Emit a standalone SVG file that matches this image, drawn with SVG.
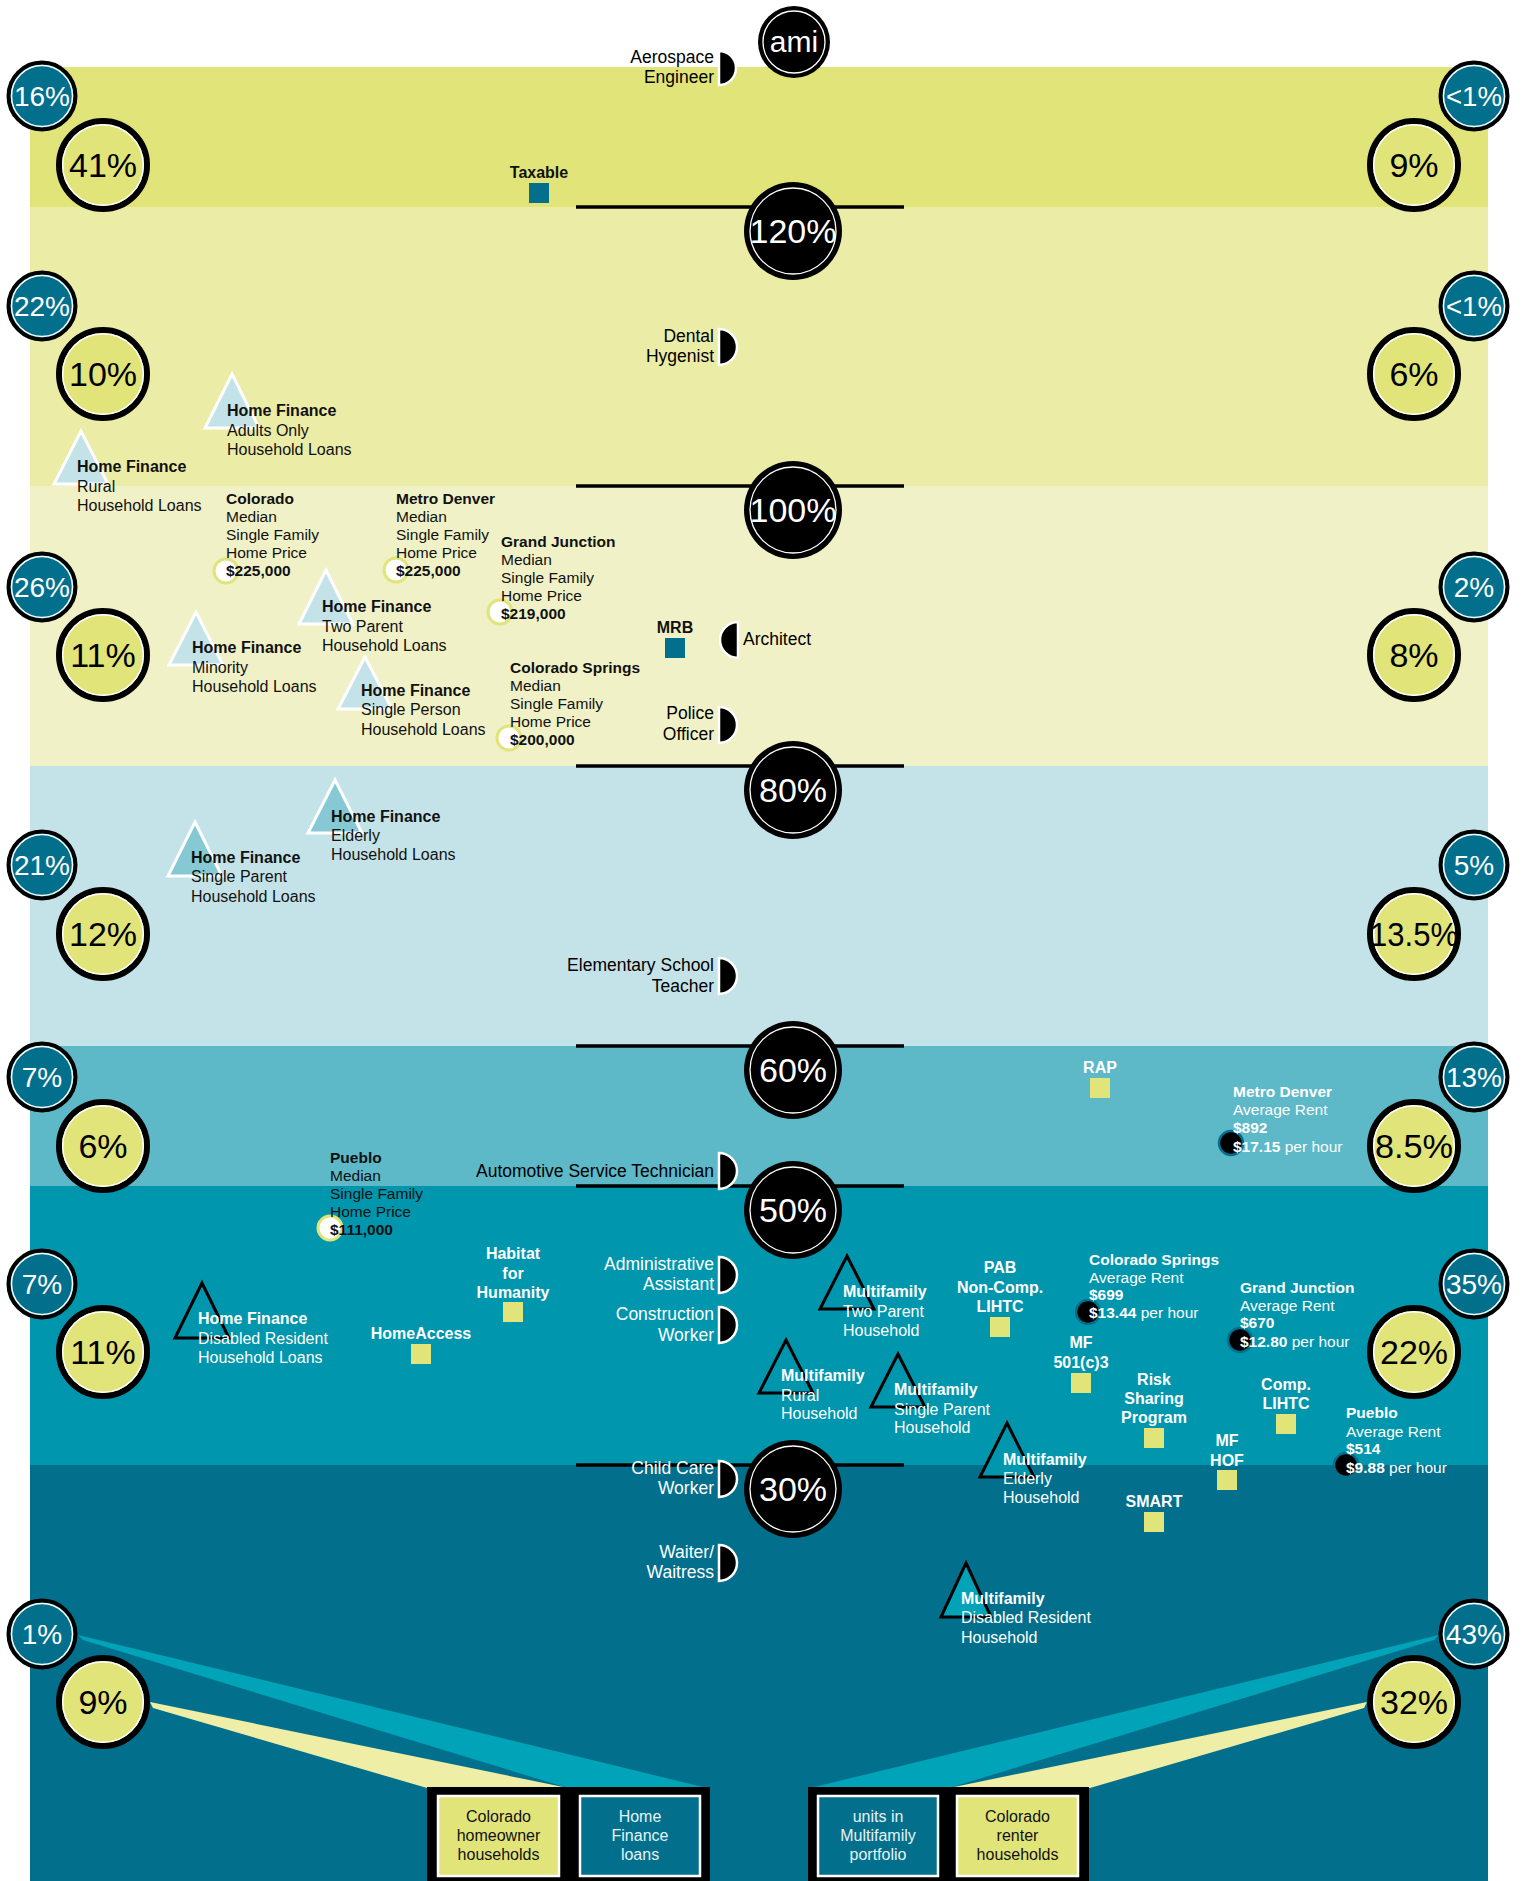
<svg xmlns="http://www.w3.org/2000/svg" width="1523" height="1881" viewBox="0 0 1523 1881">
<style>
text{font-family:"Liberation Sans",Arial,sans-serif}
.sc{fill:#02708c;stroke:#000;stroke-width:4}
.scr{fill:none;stroke:#fff;stroke-width:1.5}
.bc{fill:#e1e479;stroke:#000;stroke-width:6}
.bcr{fill:none;stroke:#fff;stroke-width:1.5}
.cc{fill:#000}
.ccr{fill:none;stroke:#fff;stroke-width:1.3}
.ps{font-size:28px;fill:#fff;text-anchor:middle}
.pb{font-size:34px;fill:#000;text-anchor:middle}
.pc{font-size:34px;fill:#fff;text-anchor:middle}
.thr{stroke:#000;stroke-width:3.5}
.disc{fill:#000;stroke:#fff;stroke-width:2.5}
.occ{font-size:17.5px;fill:#000;text-anchor:end}
.occw{font-size:17.5px;fill:#fff;text-anchor:end}
.hf{font-size:16px;fill:#111}
.hfw{font-size:16px;fill:#fff}
.b{font-weight:bold}
.tl{fill:#c4e3e8;stroke:#fff;stroke-width:3}
.tm{fill:#86c9d4;stroke:#fff;stroke-width:3}
.tk{fill:#0096ad;stroke:#000;stroke-width:3}
.hp{fill:#fff;stroke:#e1e479;stroke-width:3}
.hpt{font-size:15.5px;fill:#111}
.rm{fill:#000;stroke:#02708c;stroke-width:2.5}
.rt{font-size:15.5px;fill:#fff}
.sqt{fill:#02708c}
.sqy{fill:#e1e479}
.sl{font-size:16px;font-weight:bold;fill:#111;text-anchor:middle}
.slw{font-size:16px;font-weight:bold;fill:#fff;text-anchor:middle}
.bx{fill:#000}
.iby{fill:#e1e479;stroke:#fff;stroke-width:2.5}
.ibt{fill:#02708c;stroke:#fff;stroke-width:2.5}
.bt{font-size:16px;fill:#111;text-anchor:middle}
.btw{font-size:16px;fill:#e6f3f5;text-anchor:middle}
</style>

<g id="bands">
<rect x="30" y="67" width="1458" height="140" fill="#e1e479"/>
<rect x="30" y="207" width="1458" height="279" fill="#ebeca6"/>
<rect x="30" y="486" width="1458" height="280" fill="#f0f1c6"/>
<rect x="30" y="766" width="1458" height="280" fill="#c4e3e8"/>
<rect x="30" y="1046" width="1458" height="140" fill="#5db8c8"/>
<rect x="30" y="1186" width="1458" height="279" fill="#0096ad"/>
<rect x="30" y="1465" width="1458" height="416" fill="#02708c"/>
</g>

<g id="connectors">
<polygon points="78,1635 707,1788 568,1788 83,1640" fill="#00a3b8"/>
<polygon points="150,1702 568,1788 427,1788 153,1708" fill="#efeea6"/>
<polygon points="1439,1635 810,1788 949,1788 1434,1640" fill="#00a3b8"/>
<polygon points="1367,1702 949,1788 1090,1788 1364,1708" fill="#efeea6"/>
<line class="thr" x1="576" y1="207" x2="904" y2="207"/>
<line class="thr" x1="576" y1="486" x2="904" y2="486"/>
<line class="thr" x1="576" y1="766" x2="904" y2="766"/>
<line class="thr" x1="576" y1="1046" x2="904" y2="1046"/>
<line class="thr" x1="576" y1="1186" x2="904" y2="1186"/>
<line class="thr" x1="576" y1="1465" x2="904" y2="1465"/>
</g>

<g id="ami-ami"><circle class="cc" cx="794" cy="42" r="36"/><circle class="ccr" cx="794" cy="42" r="31"/><text class="pc" x="794" y="52" style="font-size:30px">ami</text></g>
<g id="ami-120"><circle class="cc" cx="793" cy="231" r="49"/><circle class="ccr" cx="793" cy="231" r="43"/><text class="pc" x="793" y="243">120%</text></g>
<g id="ami-100"><circle class="cc" cx="793" cy="510" r="49"/><circle class="ccr" cx="793" cy="510" r="43"/><text class="pc" x="793" y="522">100%</text></g>
<g id="ami-80"><circle class="cc" cx="793" cy="790" r="49"/><circle class="ccr" cx="793" cy="790" r="43"/><text class="pc" x="793" y="802">80%</text></g>
<g id="ami-60"><circle class="cc" cx="793" cy="1070" r="49"/><circle class="ccr" cx="793" cy="1070" r="43"/><text class="pc" x="793" y="1082">60%</text></g>
<g id="ami-50"><circle class="cc" cx="793" cy="1210" r="49"/><circle class="ccr" cx="793" cy="1210" r="43"/><text class="pc" x="793" y="1222">50%</text></g>
<g id="ami-30"><circle class="cc" cx="793" cy="1489" r="49"/><circle class="ccr" cx="793" cy="1489" r="43"/><text class="pc" x="793" y="1501">30%</text></g>

<g id="left-small">
<g id="ls1"><circle class="sc" cx="42" cy="96" r="33.5"/><circle class="scr" cx="42" cy="96" r="30.5"/><text class="ps" x="42" y="106">16%</text></g>
<g id="ls2"><circle class="sc" cx="42" cy="306" r="33.5"/><circle class="scr" cx="42" cy="306" r="30.5"/><text class="ps" x="42" y="316">22%</text></g>
<g id="ls3"><circle class="sc" cx="42" cy="587" r="33.5"/><circle class="scr" cx="42" cy="587" r="30.5"/><text class="ps" x="42" y="597">26%</text></g>
<g id="ls4"><circle class="sc" cx="42" cy="865" r="33.5"/><circle class="scr" cx="42" cy="865" r="30.5"/><text class="ps" x="42" y="875">21%</text></g>
<g id="ls5"><circle class="sc" cx="42" cy="1077" r="33.5"/><circle class="scr" cx="42" cy="1077" r="30.5"/><text class="ps" x="42" y="1087">7%</text></g>
<g id="ls6"><circle class="sc" cx="42" cy="1284" r="33.5"/><circle class="scr" cx="42" cy="1284" r="30.5"/><text class="ps" x="42" y="1294">7%</text></g>
<g id="ls7"><circle class="sc" cx="42" cy="1634" r="33.5"/><circle class="scr" cx="42" cy="1634" r="30.5"/><text class="ps" x="42" y="1644">1%</text></g>
</g>
<g id="left-big">
<g id="lb1"><circle class="bc" cx="103" cy="165" r="44"/><circle class="bcr" cx="103" cy="165" r="40.3"/><text class="pb" x="103" y="177">41%</text></g>
<g id="lb2"><circle class="bc" cx="103" cy="374" r="44"/><circle class="bcr" cx="103" cy="374" r="40.3"/><text class="pb" x="103" y="386">10%</text></g>
<g id="lb3"><circle class="bc" cx="103" cy="655" r="44"/><circle class="bcr" cx="103" cy="655" r="40.3"/><text class="pb" x="103" y="667">11%</text></g>
<g id="lb4"><circle class="bc" cx="103" cy="934" r="44"/><circle class="bcr" cx="103" cy="934" r="40.3"/><text class="pb" x="103" y="946">12%</text></g>
<g id="lb5"><circle class="bc" cx="103" cy="1146" r="44"/><circle class="bcr" cx="103" cy="1146" r="40.3"/><text class="pb" x="103" y="1158">6%</text></g>
<g id="lb6"><circle class="bc" cx="103" cy="1352" r="44"/><circle class="bcr" cx="103" cy="1352" r="40.3"/><text class="pb" x="103" y="1364">11%</text></g>
<g id="lb7"><circle class="bc" cx="103" cy="1702" r="44"/><circle class="bcr" cx="103" cy="1702" r="40.3"/><text class="pb" x="103" y="1714">9%</text></g>
</g>
<g id="right-small">
<g id="rs1"><circle class="sc" cx="1474" cy="96" r="33.5"/><circle class="scr" cx="1474" cy="96" r="30.5"/><text class="ps" x="1474" y="106" textLength="56" lengthAdjust="spacingAndGlyphs">&lt;1%</text></g>
<g id="rs2"><circle class="sc" cx="1474" cy="306" r="33.5"/><circle class="scr" cx="1474" cy="306" r="30.5"/><text class="ps" x="1474" y="316" textLength="56" lengthAdjust="spacingAndGlyphs">&lt;1%</text></g>
<g id="rs3"><circle class="sc" cx="1474" cy="587" r="33.5"/><circle class="scr" cx="1474" cy="587" r="30.5"/><text class="ps" x="1474" y="597">2%</text></g>
<g id="rs4"><circle class="sc" cx="1474" cy="865" r="33.5"/><circle class="scr" cx="1474" cy="865" r="30.5"/><text class="ps" x="1474" y="875">5%</text></g>
<g id="rs5"><circle class="sc" cx="1474" cy="1077" r="33.5"/><circle class="scr" cx="1474" cy="1077" r="30.5"/><text class="ps" x="1474" y="1087">13%</text></g>
<g id="rs6"><circle class="sc" cx="1474" cy="1284" r="33.5"/><circle class="scr" cx="1474" cy="1284" r="30.5"/><text class="ps" x="1474" y="1294">35%</text></g>
<g id="rs7"><circle class="sc" cx="1474" cy="1634" r="33.5"/><circle class="scr" cx="1474" cy="1634" r="30.5"/><text class="ps" x="1474" y="1644">43%</text></g>
</g>
<g id="right-big">
<g id="rb1"><circle class="bc" cx="1414" cy="165" r="44"/><circle class="bcr" cx="1414" cy="165" r="40.3"/><text class="pb" x="1414" y="177">9%</text></g>
<g id="rb2"><circle class="bc" cx="1414" cy="374" r="44"/><circle class="bcr" cx="1414" cy="374" r="40.3"/><text class="pb" x="1414" y="386">6%</text></g>
<g id="rb3"><circle class="bc" cx="1414" cy="655" r="44"/><circle class="bcr" cx="1414" cy="655" r="40.3"/><text class="pb" x="1414" y="667">8%</text></g>
<g id="rb4"><circle class="bc" cx="1414" cy="934" r="44"/><circle class="bcr" cx="1414" cy="934" r="40.3"/><text class="pb" x="1414" y="946" textLength="88" lengthAdjust="spacingAndGlyphs">13.5%</text></g>
<g id="rb5"><circle class="bc" cx="1414" cy="1146" r="44"/><circle class="bcr" cx="1414" cy="1146" r="40.3"/><text class="pb" x="1414" y="1158" textLength="78" lengthAdjust="spacingAndGlyphs">8.5%</text></g>
<g id="rb6"><circle class="bc" cx="1414" cy="1352" r="44"/><circle class="bcr" cx="1414" cy="1352" r="40.3"/><text class="pb" x="1414" y="1364">22%</text></g>
<g id="rb7"><circle class="bc" cx="1414" cy="1702" r="44"/><circle class="bcr" cx="1414" cy="1702" r="40.3"/><text class="pb" x="1414" y="1714">32%</text></g>
</g>

<g id="occupations">
<g id="occ-aerospace"><path class="disc" d="M719,51 A17,17 0 0,1 719,85 Z"/><text class="occ" x="714" y="63">Aerospace</text><text class="occ" x="714" y="83">Engineer</text></g>
<g id="occ-dental"><path class="disc" d="M719,329 A18,18 0 0,1 719,365 Z"/><text class="occ" x="714" y="342">Dental</text><text class="occ" x="714" y="362">Hygenist</text></g>
<g id="occ-architect"><path class="disc" d="M738,622 A18,18 0 0,0 738,658 Z"/><text class="occ" x="743" y="645" style="text-anchor:start">Architect</text></g>
<g id="occ-police"><path class="disc" d="M719,707 A18,18 0 0,1 719,743 Z"/><text class="occ" x="714" y="719">Police</text><text class="occ" x="714" y="740">Officer</text></g>
<g id="occ-teacher"><path class="disc" d="M719,958 A18,18 0 0,1 719,994 Z"/><text class="occ" x="714" y="971">Elementary School</text><text class="occ" x="714" y="992">Teacher</text></g>
<g id="occ-auto"><path class="disc" d="M719,1153 A18,18 0 0,1 719,1189 Z"/><text class="occ" x="714" y="1177">Automotive Service Technician</text></g>
<g id="occ-admin"><path class="disc" d="M719,1257 A18,18 0 0,1 719,1293 Z"/><text class="occw" x="714" y="1270">Administrative</text><text class="occw" x="714" y="1290">Assistant</text></g>
<g id="occ-construction"><path class="disc" d="M719,1307 A18,18 0 0,1 719,1343 Z"/><text class="occw" x="714" y="1320">Construction</text><text class="occw" x="714" y="1341">Worker</text></g>
<g id="occ-childcare"><path class="disc" d="M719,1461 A18,18 0 0,1 719,1497 Z"/><text class="occw" x="714" y="1474">Child Care</text><text class="occw" x="714" y="1494">Worker</text></g>
<g id="occ-waiter"><path class="disc" d="M719,1545 A18,18 0 0,1 719,1581 Z"/><text class="occw" x="714" y="1558">Waiter/</text><text class="occw" x="714" y="1578">Waitress</text></g>
</g>

<g id="home-finance">
<g id="hf-adults"><polygon class="tl" points="232,374 259,428 205,428"/><text class="hf"><tspan class="b" x="227" y="416">Home Finance</tspan><tspan x="227" y="436">Adults Only</tspan><tspan x="227" y="455">Household Loans</tspan></text></g>
<g id="hf-rural"><polygon class="tl" points="81,431 108,484 54,484"/><text class="hf"><tspan class="b" x="77" y="472">Home Finance</tspan><tspan x="77" y="492">Rural</tspan><tspan x="77" y="511">Household Loans</tspan></text></g>
<g id="hf-twoparent"><polygon class="tl" points="326,570 353,624 299,624"/><text class="hf"><tspan class="b" x="322" y="612">Home Finance</tspan><tspan x="322" y="632">Two Parent</tspan><tspan x="322" y="651">Household Loans</tspan></text></g>
<g id="hf-minority"><polygon class="tl" points="196,612 223,665 169,665"/><text class="hf"><tspan class="b" x="192" y="653">Home Finance</tspan><tspan x="192" y="673">Minority</tspan><tspan x="192" y="692">Household Loans</tspan></text></g>
<g id="hf-singleperson"><polygon class="tl" points="365,657 392,709 338,709"/><text class="hf"><tspan class="b" x="361" y="696">Home Finance</tspan><tspan x="361" y="715">Single Person</tspan><tspan x="361" y="735">Household Loans</tspan></text></g>
<g id="hf-elderly"><polygon class="tm" points="335,780 362,833 308,833"/><text class="hf"><tspan class="b" x="331" y="822">Home Finance</tspan><tspan x="331" y="841">Elderly</tspan><tspan x="331" y="860">Household Loans</tspan></text></g>
<g id="hf-singleparent"><polygon class="tm" points="195,822 222,876 168,876"/><text class="hf"><tspan class="b" x="191" y="863">Home Finance</tspan><tspan x="191" y="882">Single Parent</tspan><tspan x="191" y="902">Household Loans</tspan></text></g>
<g id="hf-disabled"><polygon class="tk" points="202,1283 229,1338 175,1338"/><text class="hfw"><tspan class="b" x="198" y="1324">Home Finance</tspan><tspan x="198" y="1344">Disabled Resident</tspan><tspan x="198" y="1363">Household Loans</tspan></text></g>
</g>

<g id="multifamily">
<g id="mf-twoparent"><polygon class="tk" points="847,1256 874,1309 820,1309"/><text class="hfw"><tspan class="b" x="843" y="1297">Multifamily</tspan><tspan x="843" y="1317">Two Parent</tspan><tspan x="843" y="1336">Household</tspan></text></g>
<g id="mf-rural"><polygon class="tk" points="786,1340 813,1393 759,1393"/><text class="hfw"><tspan class="b" x="781" y="1381">Multifamily</tspan><tspan x="781" y="1401">Rural</tspan><tspan x="781" y="1419">Household</tspan></text></g>
<g id="mf-singleparent"><polygon class="tk" points="898,1354 925,1407 871,1407"/><text class="hfw"><tspan class="b" x="894" y="1395">Multifamily</tspan><tspan x="894" y="1415">Single Parent</tspan><tspan x="894" y="1433">Household</tspan></text></g>
<g id="mf-elderly"><polygon class="tk" points="1007,1423 1034,1477 980,1477"/><text class="hfw"><tspan class="b" x="1003" y="1465">Multifamily</tspan><tspan x="1003" y="1484">Elderly</tspan><tspan x="1003" y="1503">Household</tspan></text></g>
<g id="mf-disabled"><polygon class="tk" style="fill:#00a3b8" points="966,1563 991,1617 941,1617"/><text class="hfw"><tspan class="b" x="961" y="1604">Multifamily</tspan><tspan x="961" y="1623">Disabled Resident</tspan><tspan x="961" y="1643">Household</tspan></text></g>
</g>

<g id="home-prices">
<g id="hp-colorado"><circle class="hp" cx="226" cy="571" r="12"/><text class="hpt"><tspan class="b" x="226" y="504">Colorado</tspan><tspan x="226" y="522">Median</tspan><tspan x="226" y="540">Single Family</tspan><tspan x="226" y="558">Home Price</tspan><tspan class="b" x="226" y="576">$225,000</tspan></text></g>
<g id="hp-metrodenver"><circle class="hp" cx="396" cy="570" r="12"/><text class="hpt"><tspan class="b" x="396" y="504">Metro Denver</tspan><tspan x="396" y="522">Median</tspan><tspan x="396" y="540">Single Family</tspan><tspan x="396" y="558">Home Price</tspan><tspan class="b" x="396" y="576">$225,000</tspan></text></g>
<g id="hp-grandjunction"><circle class="hp" cx="500" cy="612" r="12"/><text class="hpt"><tspan class="b" x="501" y="547">Grand Junction</tspan><tspan x="501" y="565">Median</tspan><tspan x="501" y="583">Single Family</tspan><tspan x="501" y="601">Home Price</tspan><tspan class="b" x="501" y="619">$219,000</tspan></text></g>
<g id="hp-cosprings"><circle class="hp" cx="509" cy="738" r="12"/><text class="hpt"><tspan class="b" x="510" y="673">Colorado Springs</tspan><tspan x="510" y="691">Median</tspan><tspan x="510" y="709">Single Family</tspan><tspan x="510" y="727">Home Price</tspan><tspan class="b" x="510" y="745">$200,000</tspan></text></g>
<g id="hp-pueblo"><circle class="hp" cx="330" cy="1228" r="12"/><text class="hpt"><tspan class="b" x="330" y="1163">Pueblo</tspan><tspan x="330" y="1181">Median</tspan><tspan x="330" y="1199">Single Family</tspan><tspan x="330" y="1217">Home Price</tspan><tspan class="b" x="330" y="1235">$111,000</tspan></text></g>
</g>

<g id="rents">
<g id="rent-metrodenver"><circle class="rm" cx="1231" cy="1143" r="12"/><text class="rt"><tspan class="b" x="1233" y="1097">Metro Denver</tspan><tspan x="1233" y="1115">Average Rent</tspan><tspan class="b" x="1233" y="1133">$892</tspan><tspan class="b" x="1233" y="1152">$17.15</tspan><tspan> per hour</tspan></text></g>
<g id="rent-cosprings"><circle class="rm" cx="1088" cy="1312" r="12"/><text class="rt"><tspan class="b" x="1089" y="1265">Colorado Springs</tspan><tspan x="1089" y="1283">Average Rent</tspan><tspan class="b" x="1089" y="1300">$699</tspan><tspan class="b" x="1089" y="1318">$13.44</tspan><tspan> per hour</tspan></text></g>
<g id="rent-grandjunction"><circle class="rm" cx="1240" cy="1340" r="12"/><text class="rt"><tspan class="b" x="1240" y="1293">Grand Junction</tspan><tspan x="1240" y="1311">Average Rent</tspan><tspan class="b" x="1240" y="1328">$670</tspan><tspan class="b" x="1240" y="1347">$12.80</tspan><tspan> per hour</tspan></text></g>
<g id="rent-pueblo"><circle class="rm" cx="1346" cy="1465" r="12"/><text class="rt"><tspan class="b" x="1346" y="1418">Pueblo</tspan><tspan x="1346" y="1437">Average Rent</tspan><tspan class="b" x="1346" y="1454">$514</tspan><tspan class="b" x="1346" y="1473">$9.88</tspan><tspan> per hour</tspan></text></g>
</g>

<g id="programs">
<g id="pg-taxable"><rect class="sqt" x="529" y="183" width="20" height="20"/><text class="sl" x="539" y="178">Taxable</text></g>
<g id="pg-mrb"><rect class="sqt" x="665" y="638" width="20" height="20"/><text class="sl" x="675" y="633">MRB</text></g>
<g id="pg-rap"><rect class="sqy" x="1090" y="1078" width="20" height="20"/><text class="slw" x="1100" y="1073">RAP</text></g>
<g id="pg-habitat"><rect class="sqy" x="503" y="1302" width="20" height="20"/><text class="slw"><tspan x="513" y="1259">Habitat</tspan><tspan x="513" y="1279">for</tspan><tspan x="513" y="1298">Humanity</tspan></text></g>
<g id="pg-homeaccess"><rect class="sqy" x="411" y="1344" width="20" height="20"/><text class="slw" x="421" y="1339">HomeAccess</text></g>
<g id="pg-pab"><rect class="sqy" x="990" y="1317" width="20" height="20"/><text class="slw"><tspan x="1000" y="1273">PAB</tspan><tspan x="1000" y="1293">Non-Comp.</tspan><tspan x="1000" y="1312">LIHTC</tspan></text></g>
<g id="pg-mf501"><rect class="sqy" x="1071" y="1373" width="20" height="20"/><text class="slw"><tspan x="1081" y="1348">MF</tspan><tspan x="1081" y="1368">501(c)3</tspan></text></g>
<g id="pg-risk"><rect class="sqy" x="1144" y="1428" width="20" height="20"/><text class="slw"><tspan x="1154" y="1385">Risk</tspan><tspan x="1154" y="1404">Sharing</tspan><tspan x="1154" y="1423">Program</tspan></text></g>
<g id="pg-comp"><rect class="sqy" x="1276" y="1414" width="20" height="20"/><text class="slw"><tspan x="1286" y="1390">Comp.</tspan><tspan x="1286" y="1409">LIHTC</tspan></text></g>
<g id="pg-mfhof"><rect class="sqy" x="1217" y="1470" width="20" height="20"/><text class="slw"><tspan x="1227" y="1446">MF</tspan><tspan x="1227" y="1466">HOF</tspan></text></g>
<g id="pg-smart"><rect class="sqy" x="1144" y="1512" width="20" height="20"/><text class="slw" x="1154" y="1507">SMART</text></g>
</g>

<g id="legend">
<g id="legend-owners"><rect class="bx" x="427" y="1787" width="283" height="94"/>
<g id="lg-homeowner"><rect class="iby" x="438" y="1796" width="121" height="80"/><text class="bt"><tspan x="498.5" y="1822">Colorado</tspan><tspan x="498.5" y="1841">homeowner</tspan><tspan x="498.5" y="1860">households</tspan></text></g>
<g id="lg-hfloans"><rect class="ibt" x="580" y="1796" width="120" height="80"/><text class="btw"><tspan x="640" y="1822">Home</tspan><tspan x="640" y="1841">Finance</tspan><tspan x="640" y="1860">loans</tspan></text></g>
</g>
<g id="legend-renters"><rect class="bx" x="808" y="1787" width="281" height="94"/>
<g id="lg-mfunits"><rect class="ibt" x="818" y="1796" width="120" height="80"/><text class="btw"><tspan x="878" y="1822">units in</tspan><tspan x="878" y="1841">Multifamily</tspan><tspan x="878" y="1860">portfolio</tspan></text></g>
<g id="lg-renter"><rect class="iby" x="957" y="1796" width="121" height="80"/><text class="bt"><tspan x="1017.5" y="1822">Colorado</tspan><tspan x="1017.5" y="1841">renter</tspan><tspan x="1017.5" y="1860">households</tspan></text></g>
</g>
</g>
</svg>
